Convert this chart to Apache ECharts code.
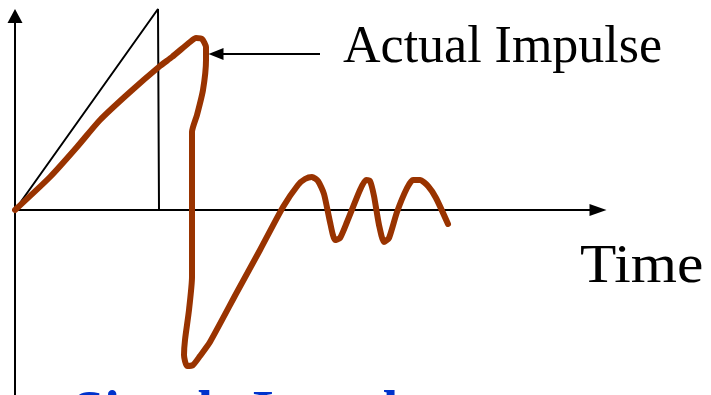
<!DOCTYPE html>
<html>
<head>
<meta charset="utf-8">
<style>
  html, body { margin: 0; padding: 0; background: #ffffff; }
  #chart { width: 711px; height: 395px; }
</style>
<script src="https://cdn.jsdelivr.net/npm/echarts@6/dist/echarts.min.js"></script>
</head>
<body>
<div id="chart"></div>
<script>
// Ideal impulse: a linear ramp that drops straight back to zero
const idealTime = [0, 143, 144];
const idealForce = [0, 201, 0];

// Measured impulse: ramp, overshoot, deep rebound, then ringing that dies away
const actualTime = [0, 35, 62, 85, 115, 145, 157, 175, 181, 187, 191, 191, 188, 182, 177, 177, 177,
  174, 170, 169, 172, 178, 185, 195, 222, 245, 268, 283, 290, 297, 303, 309, 315, 320, 325, 332,
  345, 351, 355, 359, 364, 369, 374, 382, 392, 398, 405, 413, 421, 433];
const actualForce = [0, 33, 63, 90, 118, 144, 153, 168, 172, 171, 163, 150, 120, 95, 78, 10, -67,
  -100, -130, -145, -156, -155, -146, -132, -82, -40, 3, 25, 31, 33, 29, 16, -12, -30, -28, -12,
  20, 30, 29, 14, -15, -32, -28, -2, 22, 30, 30, 24, 12, -14];

// Pointer to the overshoot peak
const pointerFrom = [305, 156];
const pointerTo = [201, 156];

const serif = '"Liberation Serif", "Times New Roman", serif';

const chart = echarts.init(document.getElementById('chart'), null, { renderer: 'canvas' });

chart.setOption({
  animation: false,
  backgroundColor: '#ffffff',
  grid: { left: 15, right: 113, top: 16, bottom: 0, containLabel: false },
  xAxis: {
    type: 'value', min: 0, max: 583,
    axisLine: {
      show: true, onZero: true,
      symbol: ['none', 'triangle'], symbolSize: [12, 17],
      lineStyle: { color: '#000000', width: 2 }
    },
    axisTick: { show: false }, axisLabel: { show: false }, splitLine: { show: false }
  },
  yAxis: {
    type: 'value', min: -185, max: 194,
    axisLine: {
      show: true, onZero: true,
      symbol: ['none', 'triangle'], symbolSize: [15, 14],
      lineStyle: { color: '#000000', width: 2 }
    },
    axisTick: { show: false }, axisLabel: { show: false }, splitLine: { show: false }
  },
  series: [
    {
      name: 'Ideal',
      type: 'line',
      data: idealTime.map((t, i) => [t, idealForce[i]]),
      showSymbol: false,
      clip: false,
      lineStyle: { color: '#000000', width: 2 },
      z: 3
    },
    {
      name: 'Actual',
      type: 'line',
      data: actualTime.map((t, i) => [t, actualForce[i]]),
      showSymbol: false,
      smooth: 0.2,
      clip: false,
      lineStyle: { color: '#993300', width: 6, cap: 'round', join: 'round' },
      z: 4,
      markLine: {
        silent: true,
        symbol: ['none', 'triangle'],
        symbolSize: [12, 15],
        label: { show: false },
        lineStyle: { color: '#000000', width: 2, type: 'solid' },
        data: [[{ coord: pointerFrom }, { coord: pointerTo }]]
      }
    }
  ],
  graphic: [
    {
      type: 'text', left: 343, top: 22,
      style: { text: 'Actual Impulse', font: '52px ' + serif, fill: '#000000' }
    },
    {
      type: 'text', x: 580, y: 240, scaleX: 1.08,
      style: { text: 'Time', font: '55px ' + serif, fill: '#000000' }
    },
    {
      type: 'text', left: 73, top: 388,
      style: { text: 'Simple Impulse', font: 'bold 56px ' + serif, fill: '#0033cc' }
    }
  ]
});
</script>
</body>
</html>
